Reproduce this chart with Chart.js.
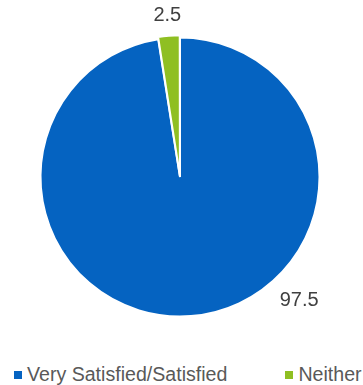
<!DOCTYPE html>
<html>
<head>
<meta charset="utf-8">
<script src="https://cdn.jsdelivr.net/npm/chart.js@4/dist/chart.umd.min.js"></script>
<style>
    html, body { margin: 0; padding: 0; background: #fff; }
    .wrap { position: relative; width: 363px; height: 385px; overflow: hidden; font-family: "Liberation Sans", Arial, sans-serif; }
    .chart-box { position: absolute; left: 0; top: 0; width: 363px; height: 350px; }
    .legend { position: absolute; left: 14px; top: 362px; display: flex; gap: 58px; font-size: 19.6px; color: #595959; line-height: 24px; }
    .legend span { display: flex; align-items: center; white-space: nowrap; }
    .legend i { display: inline-block; width: 8px; height: 8px; margin-right: 5px; margin-top: 1px; }
</style>
</head>
<body>
<div class="wrap">
    <div class="chart-box"><canvas id="chart-satisfaccion"></canvas></div>
    <div class="legend" id="legend"></div>
</div>
<script>
// Satisfaction split (percent)
const categorias = ['Very Satisfied/Satisfied', 'Neither'];
const valores = [97.5, 2.5];
const colores = ['#0563C1', '#8FBF22'];

// Valores escritos fuera de cada sector
const etiquetasPlugin = {
    id: 'etiquetasFuera',
    afterDatasetsDraw(chart, args, opts) {
        const ctx = chart.ctx;
        const meta = chart.getDatasetMeta(0);
        ctx.save();
        ctx.font = opts.font;
        ctx.fillStyle = opts.color;
        ctx.textAlign = 'center';
        ctx.textBaseline = 'middle';
        meta.data.forEach((arc, i) => {
            const p = arc.getProps(['x', 'y', 'startAngle', 'endAngle', 'outerRadius'], true);
            // ángulo fijo si se indica, si no el centro del sector
            const ang = opts.angles[i] != null
                ? (opts.angles[i] - 90) * Math.PI / 180
                : (p.startAngle + p.endAngle) / 2;
            const r = p.outerRadius * opts.radius[i];
            ctx.fillText(String(chart.data.datasets[0].data[i]), p.x + Math.cos(ang) * r, p.y + Math.sin(ang) * r);
        });
        ctx.restore();
    }
};

const ctx = document.getElementById('chart-satisfaccion').getContext('2d');
new Chart(ctx, {
    type: 'pie',
    data: {
        labels: categorias,
        datasets: [{
            data: valores,
            backgroundColor: colores,
            borderColor: '#ffffff',
            borderWidth: 2,
            offset: [0, 5]
        }]
    },
    options: {
        responsive: true,
        maintainAspectRatio: false,
        animation: false,
        layout: { padding: { top: 34, left: 37, right: 40, bottom: 30 } },
        plugins: {
            legend: { display: false },
            tooltip: { enabled: false },
            etiquetasFuera: {
                font: '20px "Liberation Sans", Arial, sans-serif',
                color: '#404040',
                angles: [136, null],
                radius: [1.23, 1.16]
            }
        }
    },
    plugins: [etiquetasPlugin]
});

// Leyenda en HTML debajo del gráfico
document.getElementById('legend').innerHTML = categorias
    .map((c, i) => `<span><i style="background:${colores[i]}"></i>${c}</span>`)
    .join('');
</script>
</body>
</html>
